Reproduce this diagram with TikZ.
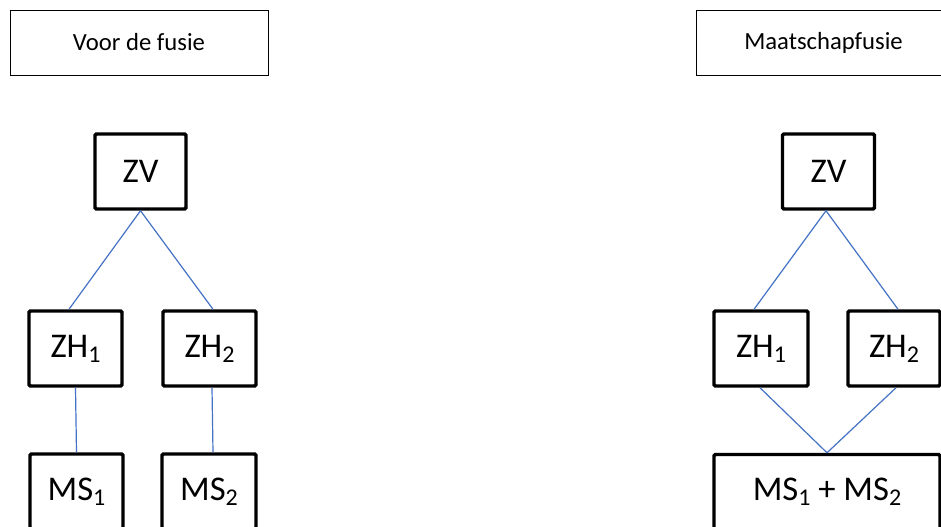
\documentclass[tikz,border=0pt]{standalone}
\usepackage{fontspec}
\setmainfont{Carlito}
\usetikzlibrary{calc}
\definecolor{lineblue}{RGB}{68,114,196}
\tikzset{
  titlebox/.style={draw=black, line width=0.75pt, inner sep=0pt, minimum height=65*0.75pt, font=\fontsize{18.5}{22}\selectfont, text=black},
  orgbox/.style={draw=black, line width=2.6pt, rounded corners=1pt, inner sep=0pt, minimum height=75*0.75pt, font=\fontsize{26}{30}\selectfont, text=black},
  link/.style={draw=lineblue, line width=0.9pt}
}
\newcommand{\sbs}[1]{\raisebox{-3.6pt}{\fontsize{18}{18}\selectfont #1}}
\begin{document}
\begin{tikzpicture}[x=0.75pt, y=-0.75pt]
\useasboundingbox (0,0) rectangle (941,526);
\clip (0,0) rectangle (941,526);
\fill[white] (0,0) rectangle (941,526);
% titles
\node[titlebox, minimum width=258*0.75pt] (tL) at (139,42.5) {Voor de fusie};
\node[titlebox, minimum width=254*0.75pt, anchor=west] (tR) at (696,42.5) {Maatschapfusie};
% left tree
\node[orgbox, minimum width=91*0.75pt] (zvL) at (140.5,171.5) {ZV};
\node[orgbox, minimum width=93*0.75pt] (zhL1) at (75.5,348.5) {ZH\sbs{1}};
\node[orgbox, minimum width=93*0.75pt] (zhL2) at (209.5,348.5) {ZH\sbs{2}};
\node[orgbox, minimum width=93*0.75pt] (msL1) at (76.5,491.5) {MS\sbs{1}};
\node[orgbox, minimum width=94*0.75pt] (msL2) at (209,491.5) {MS\sbs{2}};
\draw[link] (zvL.south) -- ($(zhL1.north)+(-6.5,0)$);
\draw[link] (zvL.south) -- ($(zhL2.north)+(3.5,0)$);
\draw[link] (zhL1.south) -- (msL1.north);
\draw[link] ($(zhL2.south)+(2.5,0)$) -- ($(msL2.north)+(4,0)$);
% right tree
\node[orgbox, minimum width=92*0.75pt] (zvR) at (828.5,171.5) {ZV};
\node[orgbox, minimum width=94*0.75pt] (zhR1) at (761,348.5) {ZH\sbs{1}};
\node[orgbox, minimum width=92*0.75pt] (zhR2) at (894,348.5) {ZH\sbs{2}};
\node[orgbox, minimum width=226*0.75pt] (msR) at (827,492) {MS\sbs{1} + MS\sbs{2}};
\draw[link] ($(zvR.south)+(-2.5,0)$) -- ($(zhR1.north)+(-7,0)$);
\draw[link] ($(zvR.south)+(-2.5,0)$) -- ($(zhR2.north)+(4,0)$);
\draw[link] ($(zhR1.south)+(-1,0)$) -- (msR.north);
\draw[link] ($(zhR2.south)+(2,0)$) -- (msR.north);
\end{tikzpicture}
\end{document}
